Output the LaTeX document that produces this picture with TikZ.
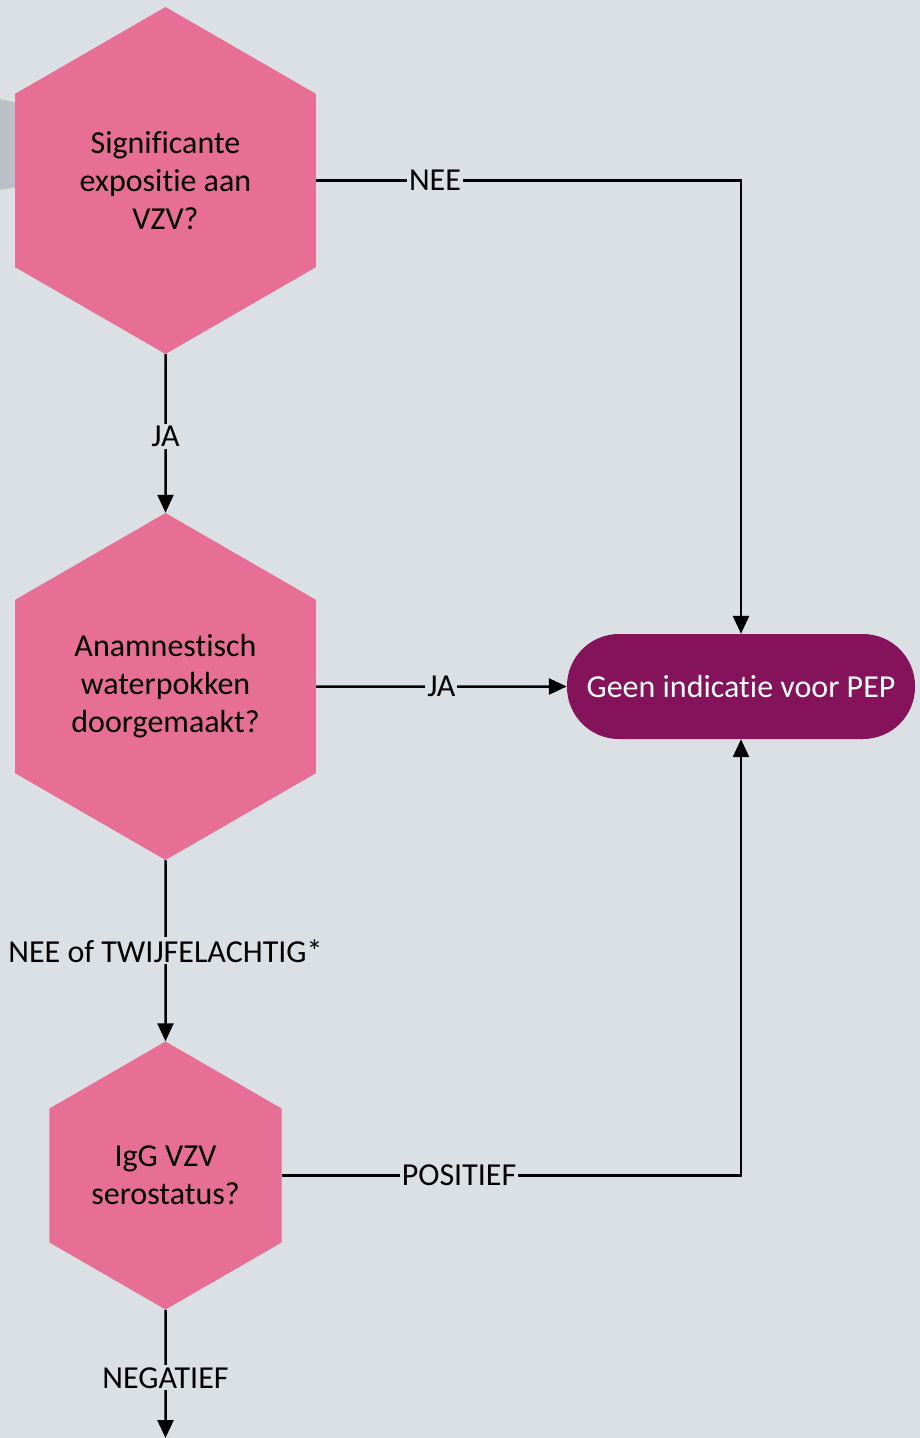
\documentclass[tikz,border=0pt]{standalone}
\usepackage{fontspec}
\setmainfont{Carlito}[RawFeature={-liga}]
\usetikzlibrary{shapes.geometric,arrows.meta}
\definecolor{bgc}{HTML}{DAE0E4}
\definecolor{hexc}{HTML}{E76F96}
\definecolor{pillc}{HTML}{84135C}
\definecolor{greyc}{HTML}{B9C1C7}
\tikzset{
  hexbox/.style={regular polygon, regular polygon sides=6, regular polygon rotate=30,
    fill=hexc, draw=none, inner sep=0pt, align=center, text=black,
    font=\fontsize{32}{38}\selectfont},
  pillbox/.style={rectangle, rounded corners=52pt, fill=pillc, draw=none,
    minimum width=348pt, minimum height=105pt, text=white,
    font=\fontsize{32}{38}\selectfont},
  conn/.style={line width=2.5pt, draw=black},
  arr/.style={conn, -{Triangle[length=18pt,width=16pt]}},
  lbl/.style={fill=bgc, inner sep=2pt, text=black, font=\fontsize{32}{36}\selectfont}
}
\begin{document}
\begin{tikzpicture}[x=1pt,y=-1pt]
\useasboundingbox (0,0) rectangle (920,1438);
\fill[bgc] (0,0) rectangle (920,1438);
\fill[greyc] (0,99) -- (22,104) -- (22,186) -- (0,190) -- cycle;
\node[hexbox, minimum size=347pt] (h1) at (165.5,180.5) {Significante\\expositie aan\\VZV?};
\node[hexbox, minimum size=347pt] (h2) at (165.5,686.5) {Anamnestisch\\waterpokken\\doorgemaakt?};
\node[hexbox, minimum size=268pt] (h3) at (165.5,1175.5) {IgG VZV\\serostatus?};
\node[pillbox] (p) at (741,686.5) {Geen indicatie voor PEP};
\coordinate (end) at (165.5,1438);
\draw[arr] (h1.east) -| node[lbl, pos=0.14] {NEE} (p.north);
\draw[arr] (h1.south) -- node[lbl, pos=0.52] {JA} (h2.north);
\draw[arr] (h2.east) -- node[lbl] {JA} (p.west);
\draw[arr] (h2.south) -- node[lbl] {NEE of TWIJFELACHTIG*} (h3.north);
\draw[arr] (h3.east) -| node[lbl, pos=0.193] {POSITIEF} (p.south);
\draw[arr] (h3.south) -- node[lbl, pos=0.53] {NEGATIEF} (end);
\end{tikzpicture}
\end{document}
